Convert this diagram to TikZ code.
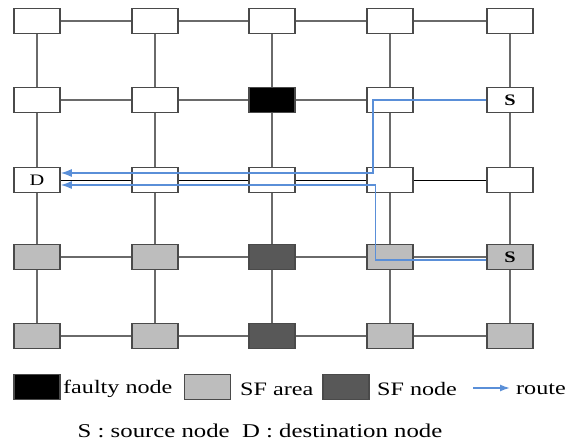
\documentclass[tikz,border=0pt]{standalone}
\usepackage{fontspec}
\setmainfont[FakeStretch=1.27]{Liberation Serif}
\usetikzlibrary{arrows.meta}
\definecolor{edgegray}{HTML}{6A6A6A}
\definecolor{boxborder}{HTML}{4A4A4A}
\definecolor{lightfill}{HTML}{BDBDBD}
\definecolor{darkfill}{HTML}{585858}
\definecolor{routeblue}{HTML}{5A8FD8}
\tikzset{
  mbox/.style={draw=boxborder, line width=1.5pt, minimum width=46pt, minimum height=25pt, inner sep=0pt, fill=white, font=\fontsize{16}{18}\selectfont},
  faulty/.style={mbox, fill=black},
  sfarea/.style={mbox, fill=lightfill},
  sfnode/.style={mbox, fill=darkfill},
  link/.style={draw=edgegray, line width=1.7pt},
  blink/.style={draw=black, line width=0.9pt},
  route/.style={draw=routeblue, line width=1.5pt},
  routearrow/.style={route, -{Latex[length=11pt,width=8pt]}},
  legtext/.style={anchor=west, inner sep=0pt, font=\fontsize{19}{22}\selectfont},
}
\begin{document}
\begin{tikzpicture}[x=1pt,y=-1pt]
\useasboundingbox (0,0) rectangle (576,443);
\fill[white] (0,0) rectangle (576,443);
% row 1
\node[mbox] (n11) at (37,21) {};
\node[mbox] (n12) at (155,21) {};
\node[mbox] (n13) at (272,21) {};
\node[mbox] (n14) at (390,21) {};
\node[mbox] (n15) at (510,21) {};
% row 2
\node[mbox] (n21) at (37,100) {};
\node[mbox] (n22) at (155,100) {};
\node[faulty] (n23) at (272,100) {};
\node[mbox] (n24) at (390,100) {};
\node[mbox] (n25) at (510,100) {\textbf{S}};
% row 3
\node[mbox] (n31) at (37,180) {D};
\node[mbox] (n32) at (155,180) {};
\node[mbox] (n33) at (272,180) {};
\node[mbox] (n34) at (390,180) {};
\node[mbox] (n35) at (510,180) {};
% row 4
\node[sfarea] (n41) at (37,257) {};
\node[sfarea] (n42) at (155,257) {};
\node[sfnode] (n43) at (272,257) {};
\node[sfarea] (n44) at (390,257) {};
\node[sfarea] (n45) at (510,257) {\textbf{S}};
% row 5
\node[sfarea] (n51) at (37,336) {};
\node[sfarea] (n52) at (155,336) {};
\node[sfnode] (n53) at (272,336) {};
\node[sfarea] (n54) at (390,336) {};
\node[sfarea] (n55) at (510,336) {};
% horizontal links
\foreach \r in {1,2,4,5}{
  \draw[link] (n\r1) -- (n\r2);
  \draw[link] (n\r2) -- (n\r3);
  \draw[link] (n\r3) -- (n\r4);
  \draw[link] (n\r4) -- (n\r5);
}
\draw[blink] (n31) -- (n32);
\draw[blink] (n32) -- (n33);
\draw[blink] (n33) -- (n34);
\draw[blink] (n34) -- (n35);
% vertical links
\foreach \c in {1,2,3,4,5}{
  \draw[link] (n1\c) -- (n2\c);
  \draw[link] (n2\c) -- (n3\c);
  \draw[link] (n3\c) -- (n4\c);
  \draw[link] (n4\c) -- (n5\c);
}
% routes
\coordinate (c1) at (373,173);
\coordinate (c2) at (375.5,185);
\coordinate (s2) at ([yshift=-3pt]n45.west);
\draw[routearrow] (n25.west) -| (c1) -- (c1 -| n31.east);
\draw[routearrow] (s2) -| (c2) -- (c2 -| n31.east);
% legend
\node[faulty] (lf) at (37,387) {};
\node[legtext] (tf) at (63,389) {faulty node};
\node[sfarea] (la) at (207.5,387) {};
\node[legtext] (ta) at (240,389) {SF area};
\node[sfnode] (ln) at (346,387) {};
\node[legtext] (tn) at (377,389) {SF node};
\coordinate (ra) at (473,388);
\coordinate (rb) at (510,388);
\draw[route, -{Latex[length=10pt,width=7pt]}] (ra) -- (rb);
\node[legtext] (tr) at (516,389) {route};
\node[inner sep=0pt, font=\fontsize{19.5}{22}\selectfont] (note) at (260,431) {S : source node\ \ D : destination node};
\end{tikzpicture}
\end{document}
